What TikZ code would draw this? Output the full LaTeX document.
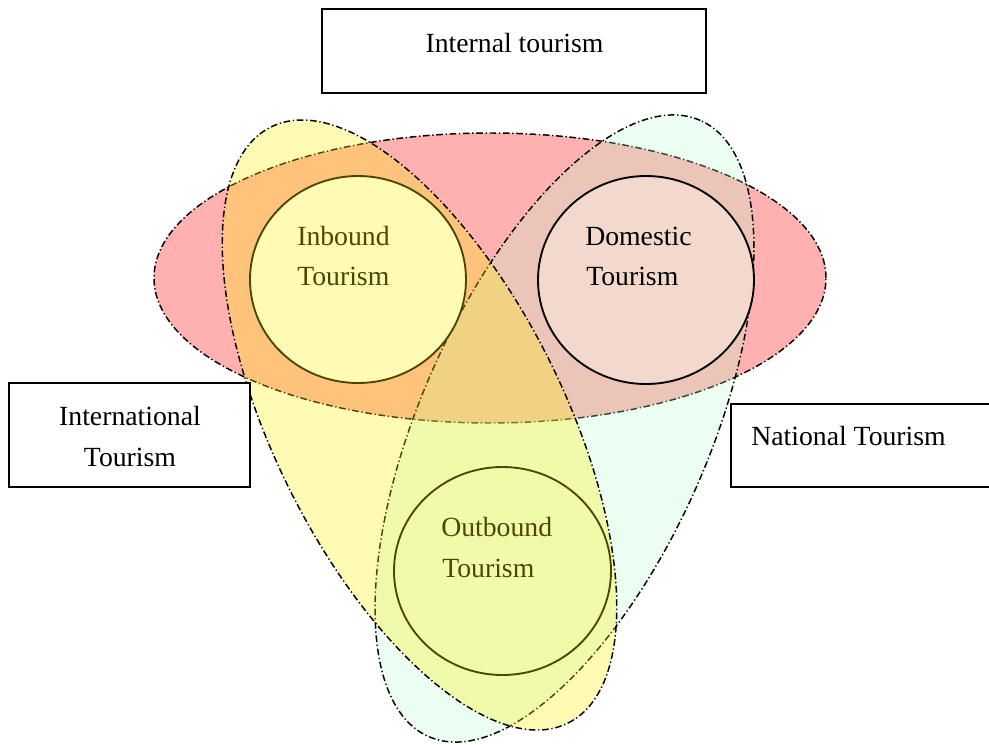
\documentclass[tikz,border=0pt]{standalone}
\usepackage{fontspec}
\setmainfont{Liberation Serif}
\definecolor{domfill}{RGB}{243,217,204}
\definecolor{mint}{RGB}{187,251,209}
\tikzset{
  ell/.style={line width=1.1pt, dash pattern=on 5pt off 2pt on 1pt off 2pt},
  lbl/.style={font=\fontsize{20.8}{30}\selectfont, inner sep=0pt},
  boxline/.style={draw, line width=1.4pt, fill=white},
  ring/.style={line width=1.4pt}
}
\begin{document}
\begin{tikzpicture}[x=0.75pt,y=0.75pt]
\useasboundingbox (0,0) rectangle (989,-744);
% red ellipse (internal tourism)
\fill[red, fill opacity=0.31] (490,-278) ellipse [x radius=336, y radius=145];
\draw[ell] (490,-278) ellipse [x radius=336, y radius=145];
% green ellipse (national tourism)
\begin{scope}[rotate around={66.2:(564.5,-428.5)}]
  \fill[mint, fill opacity=0.28] (564.5,-428.5) ellipse [x radius=336.7, y radius=144.3];
  \draw[ell] (564.5,-428.5) ellipse [x radius=336.7, y radius=144.3];
\end{scope}
% circles
\filldraw[ring, fill=domfill] (646,-280) ellipse [x radius=108, y radius=104];
\node[lbl, anchor=base west] (dom1) at (585,-245) {Domestic};
\node[lbl, anchor=base west] (dom2) at (586,-285) {Tourism};
\filldraw[ring, fill=white] (358,-279.5) ellipse [x radius=108, y radius=103.5];
\node[lbl, anchor=base west] (inb1) at (297,-245.7) {Inbound};
\node[lbl, anchor=base west] (inb2) at (297,-285.7) {Tourism};
\draw[ring] (502.5,-571) ellipse [x radius=108.5, y radius=104];
\node[lbl, anchor=base west] (out1) at (441,-536) {Outbound};
\node[lbl, anchor=base west] (out2) at (442,-577) {Tourism};
% yellow ellipse (international tourism)
\begin{scope}[rotate around={-63.5:(419.5,-425)}]
  \fill[yellow, fill opacity=0.294] (419.5,-425) ellipse [x radius=333, y radius=145];
  \draw[ell] (419.5,-425) ellipse [x radius=333, y radius=145];
\end{scope}
% boxes
\draw[boxline] (322,-9) rectangle (706,-93);
\node[lbl, anchor=base] (internal) at (514.5,-52) {Internal tourism};
\draw[boxline] (9,-383) rectangle (250,-487);
\node[lbl, anchor=base] (intl1) at (130,-425) {International};
\node[lbl, anchor=base] (intl2) at (130,-466.5) {Tourism};
\draw[boxline] (731,-404) rectangle (995,-487);
\node[lbl, anchor=base west] (national) at (751,-445) {National Tourism};
\end{tikzpicture}
\end{document}
